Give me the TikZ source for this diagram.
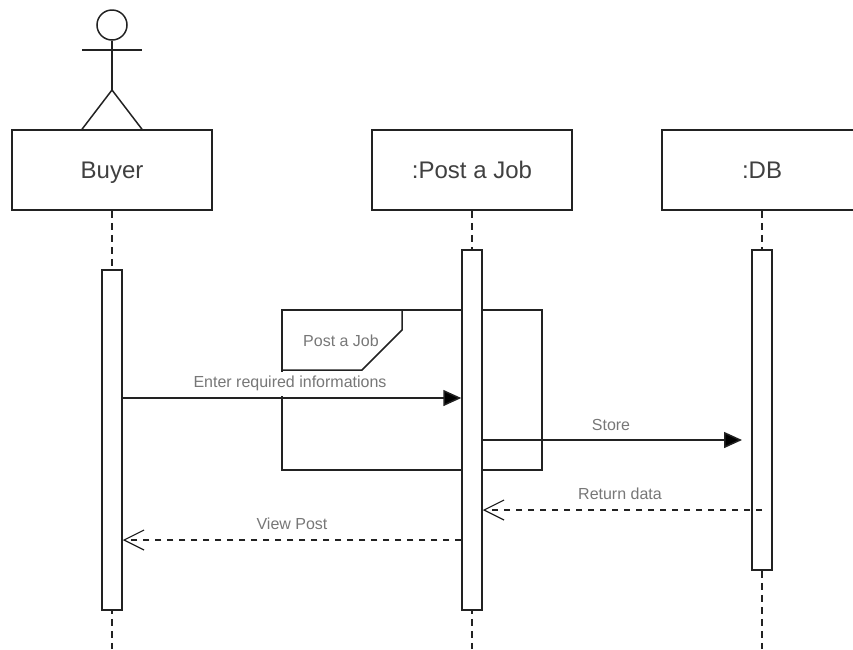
\documentclass[tikz,border=0pt]{standalone}
\usepackage{fontspec}
\setmainfont{Liberation Sans}
\usetikzlibrary{arrows.meta,calc}
\definecolor{inkline}{HTML}{222222}
\definecolor{boxtext}{HTML}{404040}
\definecolor{msgtext}{HTML}{777777}
\tikzset{
  x=1pt,y=-1pt,
  lifebox/.style={draw=inkline,fill=white,minimum width=200pt,minimum height=80pt,inner sep=0pt,text=boxtext,text height=16pt,text depth=0pt,font=\fontsize{24}{28}\selectfont},
  actbox/.style={draw=inkline,fill=white,minimum width=20pt,inner sep=0pt},
  lifeline/.style={draw=inkline,dash pattern=on 7pt off 5pt},
  msg/.style={draw=inkline,-{Triangle[length=18pt,width=16pt,fill=black]}},
  reply/.style={draw=inkline,dash pattern=on 6pt off 6pt,-{Straight Barb[length=20pt,width=20pt,line width=1.2pt]}},
  msglabel/.style={text=msgtext,anchor=base,inner sep=0pt,font=\fontsize{16}{18}\selectfont},
}
\begin{document}
\begin{tikzpicture}[draw=inkline,line width=1.5pt]
\useasboundingbox (0,0) rectangle (853,649);
\clip (0,0) rectangle (853,649);
% actor
\node[draw=inkline,circle,minimum size=30pt,inner sep=0pt] (head) at (112,25) {};
\coordinate (hip) at (112,90);
\coordinate (armL) at (82,50);
\coordinate (armR) at (142,50);
\draw[inkline] (head.south) -- (hip);
\draw[inkline] (armL) -- (armR);
% lifeboxes
\node[lifebox] (buyer) at (112,170) {Buyer};
\node[lifebox] (post) at (472,170) {:Post a Job};
\node[lifebox] (db) at (762,170) {:DB};
\draw[inkline] (hip) -- (buyer.north -| armL);
\draw[inkline] (hip) -- (buyer.north -| armR);
% lifeline ends
\coordinate (buyerEnd) at (112,649);
\coordinate (postEnd) at (472,649);
\coordinate (dbEnd) at (762,649);
\draw[lifeline] (buyer.south) -- (buyerEnd);
\draw[lifeline] (post.south) -- (postEnd);
\draw[lifeline] (db.south) -- (dbEnd);
% frame
\node[draw=inkline,minimum width=260pt,minimum height=160pt,inner sep=0pt] (frame) at (412,390) {};
\coordinate (tabA) at (402,310);
\coordinate (tabB) at (402,330);
\coordinate (tabC) at (362,370);
\coordinate (tabD) at (282,370);
\draw[inkline] (tabA) -- (tabB) -- (tabC) -- (tabD);
\node[msglabel] (frameLabel) at (341,346) {Post a Job};
% activations
\node[actbox,minimum height=340pt] (a1) at (112,440) {};
\node[actbox,minimum height=360pt] (a2) at (472,430) {};
\node[actbox,minimum height=320pt] (a3) at (762,410) {};
% messages
\coordinate (m1end) at (a2.west |- 0,398);
\draw[msg] (a1.east |- m1end) -- (m1end);
\node[msglabel,fill=white,text height=15.5pt,text depth=8.5pt] (l1) at (290,387) {Enter required informations};
\coordinate (m2end) at (742,440);
\draw[msg] (a2.east |- m2end) -- (m2end);
\node[msglabel] (l2) at (611,430) {Store};
\coordinate (m3start) at (a3.center |- 0,510);
\draw[reply] (m3start) -- (a2.east |- m3start);
\node[msglabel] (l3) at (620,499) {Return data};
\coordinate (m4start) at (a2.west |- 0,540);
\draw[reply] (m4start) -- (a1.east |- m4start);
\node[msglabel] (l4) at (292,529) {View Post};
\end{tikzpicture}
\end{document}
